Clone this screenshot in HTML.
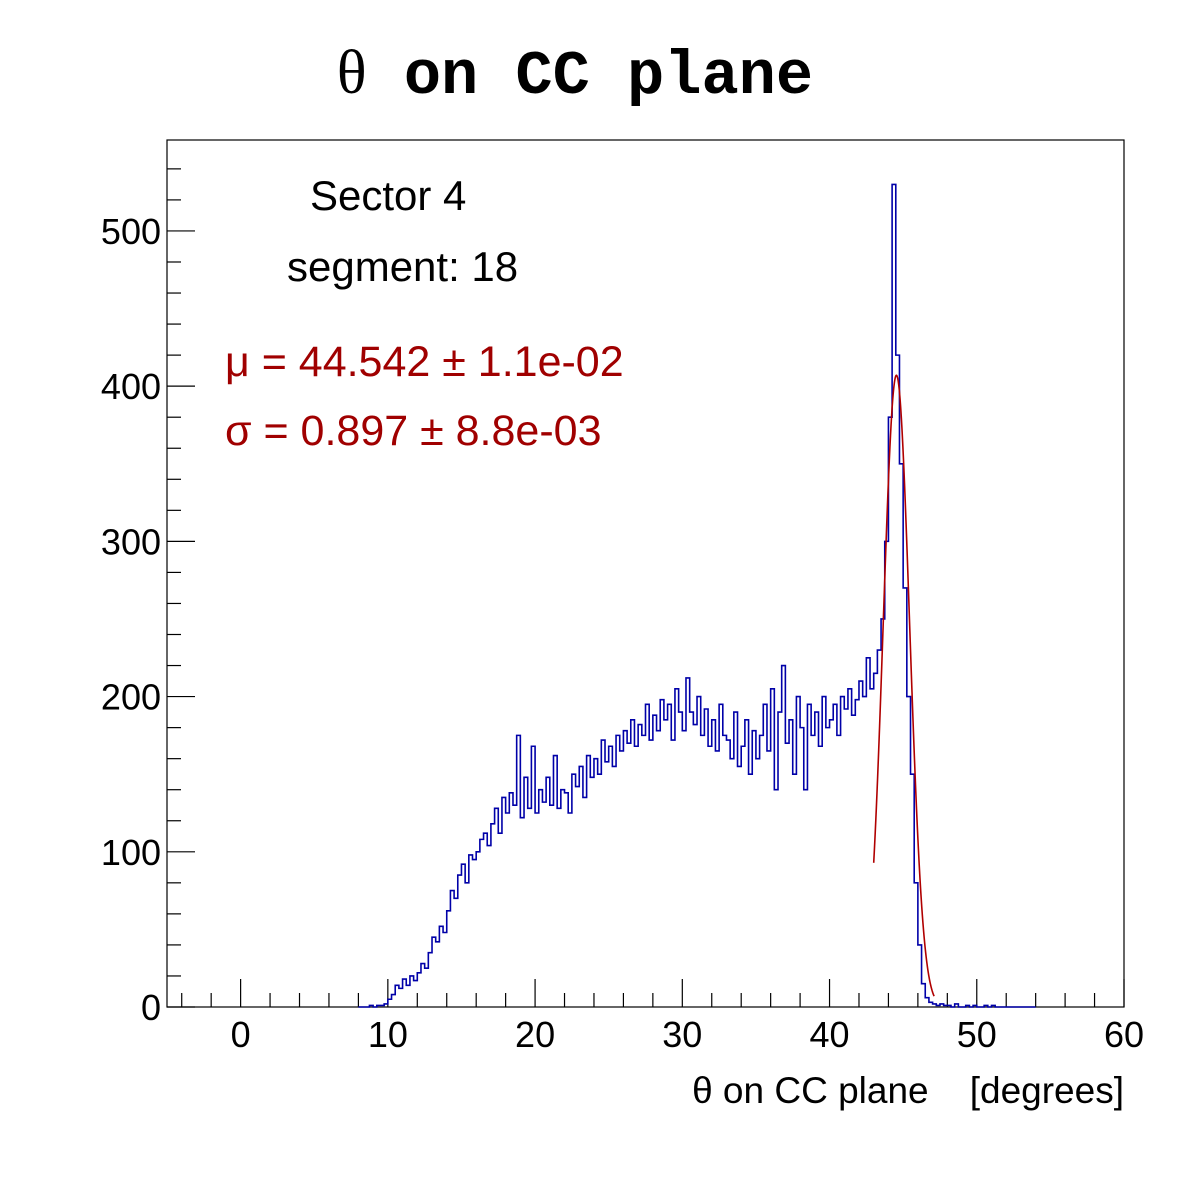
<!DOCTYPE html>
<html><head><meta charset="utf-8"><style>
body{margin:0;background:#fff;}
svg text{font-family:"Liberation Sans","DejaVu Sans",sans-serif;}
</style></head><body>
<svg id="chart" width="1196" height="1172" viewBox="0 0 1196 1172" xmlns="http://www.w3.org/2000/svg">
<rect width="1196" height="1172" fill="#fff"/>
<text x="575" y="93" text-anchor="middle" style="font-family:'Liberation Mono',monospace;font-weight:bold;font-size:62px"><tspan style="font-family:'Liberation Serif',serif;font-weight:normal">θ</tspan> on CC plane</text>
<rect x="167" y="140" width="957" height="867" fill="none" stroke="#000" stroke-width="1.2"/>
<g id="axes"></g>
<g id="marks"></g>
<text x="310" y="210" font-size="42">Sector 4</text>
<text x="287" y="281" font-size="42">segment: 18</text>
<text x="225" y="376" font-size="43" fill="#a00000">μ = 44.542 ± 1.1e-02</text>
<text x="225" y="445" font-size="43" fill="#a00000">σ = 0.897 ± 8.8e-03</text>
<text x="1124" y="1103" text-anchor="end" font-size="37" xml:space="preserve">θ on CC plane    [degrees]</text>
</svg>
<script>
const binStart = 8;
const binWidth = 0.25;
const counts = [
0,0,0,1, 0,1,1,2, 5,8,14,12, 18,14,20,17, 22,28,25,35, 45,42,52,48,
62,75,70,85, 92,80,98,95, 100,108,112,104, 118,128,112,135, 125,138,130,175,
122,148,128,168, 125,140,132,148, 130,162,128,140, 138,125,150,142, 155,135,162,148,
160,150,172,158, 168,155,175,165, 178,170,185,168, 182,175,195,172, 188,178,198,185,
195,172,205,190, 178,212,190,182, 200,175,192,168, 185,165,195,175, 172,160,190,155,
168,185,150,178, 160,175,195,165, 205,140,190,220, 170,185,150,200, 180,140,195,175,
190,168,200,180, 185,195,175,200, 192,205,188,198, 210,200,225,205, 215,230,250,300,
380,530,420,350, 270,200,150,80, 40,15,6,3, 2,1,2,1, 1,0,2,0,
0,1,0,1, 0,0,1,0, 1,0,0,0, 0,0,0,0, 0,0,0,0];
const fitMean = 44.542;
const fitSigma = 0.897;
const fitAmp = 407;
const fitRange = [43.0, 47.1];
const xTicks = [0,10,20,30,40,50,60];
const yTicks = [0,100,200,300,400,500];

const X0=-5,X1=60,Y0=0,Y1=558.6;
const L=167,R=1124,T=140,B=1007;
const xs=v=>L+(v-X0)/(X1-X0)*(R-L);
const ys=v=>B-(v-Y0)/(Y1-Y0)*(B-T);
const NS="http://www.w3.org/2000/svg";
const axes=document.getElementById('axes'), marks=document.getElementById('marks');
function mk(tag,attrs,parent){const e=document.createElementNS(NS,tag);for(const k in attrs)e.setAttribute(k,attrs[k]);parent.appendChild(e);return e;}

for(let v=-4;v<=60;v+=2){
  const major=v%10===0;
  const t=mk('line',{x1:xs(v),x2:xs(v),y1:B,y2:B-(major?28:14),stroke:'#000','stroke-width':1.2},axes);
  
  
}
xTicks.forEach(v=>{
  const t=mk('text',{x:xs(v),y:1047,'text-anchor':'middle','font-size':36},axes);
  t.textContent=v;
  
  
});
for(let v=0;v<=540;v+=20){
  const major=v%100===0;
  const t=mk('line',{x1:L,x2:L+(major?28:14),y1:ys(v),y2:ys(v),stroke:'#000','stroke-width':1.2},axes);
  
  
}
yTicks.forEach(v=>{
  const t=mk('text',{x:161,y:ys(v)+13,'text-anchor':'end','font-size':36},axes);
  t.textContent=v;
  
  
});
let d='M'+xs(binStart)+','+ys(0);
counts.forEach((c,i)=>{
  const a=binStart+i*binWidth, b=a+binWidth;
  d+=' L'+xs(a).toFixed(2)+','+ys(c).toFixed(2)+' L'+xs(b).toFixed(2)+','+ys(c).toFixed(2);
});
d+=' L'+xs(binStart+counts.length*binWidth).toFixed(2)+','+ys(0);
const h=mk('path',{d:d,fill:'none',stroke:'#0000a8','stroke-width':1.6},marks);


let fd='';
for(let x=fitRange[0];x<=fitRange[1]+1e-9;x+=0.02){
  const y=fitAmp*Math.exp(-0.5*Math.pow((x-fitMean)/fitSigma,2));
  fd+=(fd?' L':'M')+xs(x).toFixed(2)+','+ys(y).toFixed(2);
}
const f=mk('path',{d:fd,fill:'none',stroke:'#b00000','stroke-width':1.6},marks);


</script>
</body></html>
